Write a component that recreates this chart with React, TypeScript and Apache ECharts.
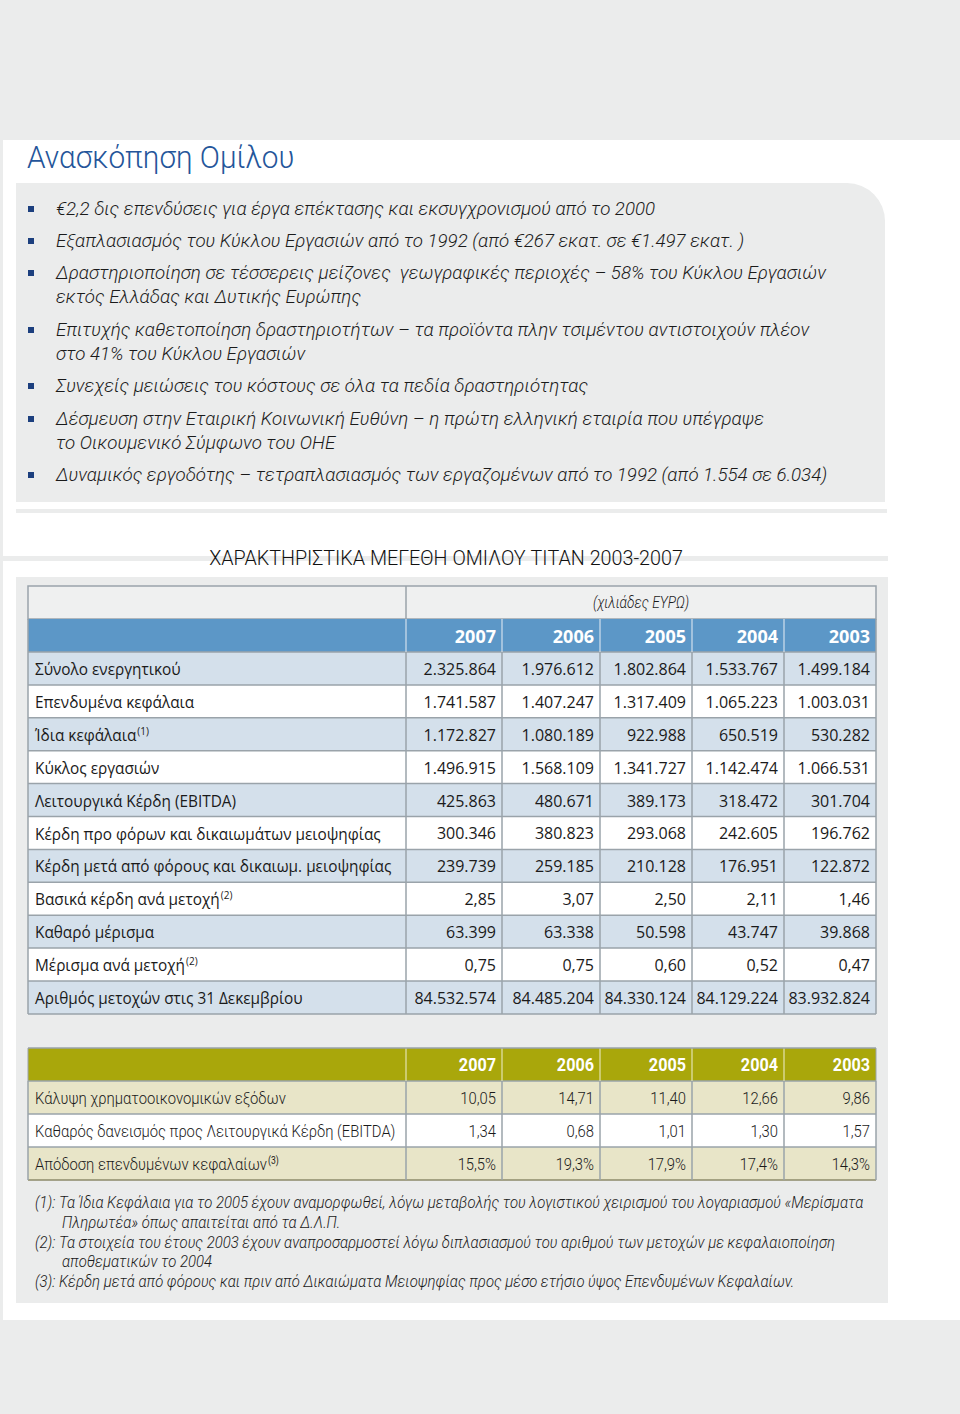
import React, { useEffect, useRef } from "react";
import * as echarts from "echarts";

// ---------- DATA ----------
const pageTitle = "Ανασκόπηση Ομίλου";
const bullets: string[][] = [
  ["€2,2 δις επενδύσεις για έργα επέκτασης και εκσυγχρονισμού από το 2000"],
  ["Εξαπλασιασμός του Κύκλου Εργασιών από το 1992 (από €267 εκατ. σε €1.497 εκατ. )"],
  ["Δραστηριοποίηση σε τέσσερεις μείζονες  γεωγραφικές περιοχές – 58% του Κύκλου Εργασιών", "εκτός Ελλάδας και Δυτικής Ευρώπης"],
  ["Επιτυχής καθετοποίηση δραστηριοτήτων – τα προϊόντα πλην τσιμέντου αντιστοιχούν πλέον", "στο 41% του Κύκλου Εργασιών"],
  ["Συνεχείς μειώσεις του κόστους σε όλα τα πεδία δραστηριότητας"],
  ["Δέσμευση στην Εταιρική Κοινωνική Ευθύνη – η πρώτη ελληνική εταιρία που υπέγραψε", "το Οικουμενικό Σύμφωνο του ΟΗΕ"],
  ["Δυναμικός εργοδότης – τετραπλασιασμός των εργαζομένων από το 1992 (από 1.554 σε 6.034)"],
];
const tableTitle = "ΧΑΡΑΚΤΗΡΙΣΤΙΚΑ ΜΕΓΕΘΗ ΟΜΙΛΟΥ ΤΙΤΑΝ 2003-2007";
const unitsLabel = "(χιλιάδες ΕΥΡΩ)";
const years = ["2007", "2006", "2005", "2004", "2003"];

const rowLabels1 = [
  "Σύνολο ενεργητικού",
  "Επενδυμένα κεφάλαια",
  "Ίδια κεφάλαια",
  "Κύκλος εργασιών",
  "Λειτουργικά Κέρδη (EBITDA)",
  "Κέρδη προ φόρων και δικαιωμάτων μειοψηφίας",
  "Κέρδη μετά από φόρους και δικαιωμ. μειοψηφίας",
  "Βασικά κέρδη ανά μετοχή",
  "Καθαρό μέρισμα",
  "Μέρισμα ανά μετοχή",
  "Αριθμός μετοχών στις 31 Δεκεμβρίου",
];
const rowNotes1 = ["", "", "(1)", "", "", "", "", "(2)", "", "(2)", ""];
const values2007 = ["2.325.864", "1.741.587", "1.172.827", "1.496.915", "425.863", "300.346", "239.739", "2,85", "63.399", "0,75", "84.532.574"];
const values2006 = ["1.976.612", "1.407.247", "1.080.189", "1.568.109", "480.671", "380.823", "259.185", "3,07", "63.338", "0,75", "84.485.204"];
const values2005 = ["1.802.864", "1.317.409", "922.988", "1.341.727", "389.173", "293.068", "210.128", "2,50", "50.598", "0,60", "84.330.124"];
const values2004 = ["1.533.767", "1.065.223", "650.519", "1.142.474", "318.472", "242.605", "176.951", "2,11", "43.747", "0,52", "84.129.224"];
const values2003 = ["1.499.184", "1.003.031", "530.282", "1.066.531", "301.704", "196.762", "122.872", "1,46", "39.868", "0,47", "83.932.824"];

const rowLabels2 = [
  "Κάλυψη χρηματοοικονομικών εξόδων",
  "Καθαρός δανεισμός προς Λειτουργικά Κέρδη (EBITDA)",
  "Απόδοση επενδυμένων κεφαλαίων",
];
const rowNotes2 = ["", "", "(3)"];
const ratios2007 = ["10,05", "1,34", "15,5%"];
const ratios2006 = ["14,71", "0,68", "19,3%"];
const ratios2005 = ["11,40", "1,01", "17,9%"];
const ratios2004 = ["12,66", "1,30", "17,4%"];
const ratios2003 = ["9,86", "1,57", "14,3%"];

const footnotes: string[][] = [
  ["(1): Τα Ίδια Κεφάλαια για το 2005 έχουν αναμορφωθεί, λόγω μεταβολής του λογιστικού χειρισμού του λογαριασμού «Μερίσματα", "Πληρωτέα» όπως απαιτείται από τα Δ.Λ.Π."],
  ["(2): Τα στοιχεία του έτους 2003 έχουν αναπροσαρμοστεί λόγω διπλασιασμού του αριθμού των μετοχών με κεφαλαιοποίηση", "αποθεματικών το 2004"],
  ["(3): Κέρδη μετά από φόρους και πριν από Δικαιώματα Μειοψηφίας προς μέσο ετήσιο ύψος Επενδυμένων Κεφαλαίων."],
];

// ---------- LAYOUT / STYLE ----------
const W = 960;
const H = 1414;
const GRAY = "#ebecec";
const SANS = "Roboto, 'Noto Sans', sans-serif";
const TABLE_FONT = "'Open Sans', 'Noto Sans', sans-serif";
const colEdges = [28, 406, 502, 600, 692, 784, 876];

let measureCtx: CanvasRenderingContext2D | null = null;
function measure(text: string, font: string): number {
  if (!measureCtx) measureCtx = document.createElement("canvas").getContext("2d");
  measureCtx!.font = font;
  return measureCtx!.measureText(text).width;
}

type TOpts = {
  size: number;
  family?: string;
  weight?: string | number;
  italic?: boolean;
  color?: string;
  align?: "left" | "right" | "center";
  sx?: number;
};

function txt(text: string, x: number, y: number, o: TOpts): any {
  return {
    type: "text",
    x,
    y,
    scaleX: o.sx ?? 1,
    silent: true,
    style: {
      text,
      fontSize: o.size,
      fontFamily: o.family ?? SANS,
      fontWeight: o.weight ?? "normal",
      fontStyle: o.italic ? "italic" : "normal",
      fill: o.color ?? "#1a1a1a",
      align: o.align ?? "left",
      verticalAlign: "middle",
    },
  };
}

function textWidth(text: string, o: TOpts): number {
  const font = `${o.italic ? "italic " : ""}${o.weight ?? "normal"} ${o.size}px ${o.family ?? SANS}`;
  return measure(text, font) * (o.sx ?? 1);
}

function buildGraphics(): any[] {
  const g: any[] = [];
  // page frame
  g.push({ type: "rect", shape: { x: 0, y: 0, width: W, height: H }, style: { fill: GRAY }, silent: true });
  g.push({ type: "rect", shape: { x: 3, y: 140, width: W - 3, height: 1180 }, style: { fill: "#ffffff" }, silent: true });

  // title
  g.push(txt(pageTitle, 27, 157, { size: 31, color: "#24559a", sx: 0.96, weight: 300 }));

  // bullets box
  g.push({ type: "rect", shape: { x: 16, y: 183, width: 869, height: 319, r: [0, 38, 0, 0] }, style: { fill: GRAY }, silent: true });
  g.push({ type: "rect", shape: { x: 16, y: 509, width: 871, height: 4 }, style: { fill: GRAY }, silent: true });

  const bulletStyle: TOpts = { size: 19, italic: true, sx: 0.985, weight: 300, color: "#1a1a1a" };
  const firstLineY = [209, 241, 273, 330, 386, 419, 475];
  bullets.forEach((lines, i) => {
    const y0 = firstLineY[i];
    g.push({ type: "rect", shape: { x: 28, y: y0 - 3, width: 6, height: 6 }, style: { fill: "#1c3f7e" }, silent: true });
    lines.forEach((line, j) => {
      g.push(txt(line, 56, y0 + j * 24, bulletStyle));
    });
  });

  // table section
  g.push({ type: "rect", shape: { x: 0, y: 556, width: 888, height: 5 }, style: { fill: GRAY }, silent: true });
  g.push(txt(tableTitle, 446, 558, { size: 21, align: "center", sx: 0.94, color: "#111", weight: 300 }));
  g.push({ type: "rect", shape: { x: 16, y: 577, width: 872, height: 726 }, style: { fill: GRAY }, silent: true });

  const cellFont: TOpts = { size: 16, family: TABLE_FONT, color: "#1a1a1a" };
  const labelFont: TOpts = { ...cellFont, sx: 0.96 };
  const border = "#9aa3aa";
  const tLeft = colEdges[0];
  const tRight = colEdges[colEdges.length - 1];

  // table 1 header row 1
  const t1Top = 586;
  const rowH = 33;
  g.push({ type: "rect", shape: { x: tLeft, y: t1Top, width: tRight - tLeft, height: rowH }, style: { fill: "#eff0f0", stroke: border, lineWidth: 1.5 }, silent: true });
  g.push({ type: "line", shape: { x1: colEdges[1], y1: t1Top, x2: colEdges[1], y2: t1Top + rowH }, style: { stroke: border, lineWidth: 1.5 }, silent: true });
  g.push(txt(unitsLabel, (colEdges[1] + tRight) / 2, t1Top + 17, { size: 16, italic: true, sx: 0.86, weight: 300, align: "center" }));

  // header row 2 (years)
  const t1H2 = t1Top + rowH;
  g.push({ type: "rect", shape: { x: tLeft, y: t1H2, width: tRight - tLeft, height: rowH }, style: { fill: "#5c97c7" }, silent: true });
  years.forEach((yr, k) => {
    g.push(txt(yr, colEdges[k + 2] - 6, t1H2 + 17, { size: 17, family: TABLE_FONT, weight: "bold", color: "#ffffff", align: "right", sx: 1.06 }));
  });

  const valueCols1 = [values2007, values2006, values2005, values2004, values2003];
  const dataTop1 = t1H2 + rowH;
  const rowH1 = 32.9;
  rowLabels1.forEach((label, r) => {
    const y = dataTop1 + r * rowH1;
    g.push({ type: "rect", shape: { x: tLeft, y, width: tRight - tLeft, height: rowH1 }, style: { fill: r % 2 === 0 ? "#d4e0eb" : "#ffffff" }, silent: true });
    const cy = y + rowH1 / 2 + 0.5;
    g.push(txt(label, 35, cy, labelFont));
    if (rowNotes1[r]) {
      const w = textWidth(label, labelFont);
      g.push(txt(rowNotes1[r], 35 + w + 1, cy - 4, { size: 10, family: TABLE_FONT }));
    }
    valueCols1.forEach((col, k) => {
      g.push(txt(col[r], colEdges[k + 2] - 6, cy, { ...cellFont, align: "right" }));
    });
  });
  const t1Bottom = dataTop1 + rowLabels1.length * rowH1;
  // grid lines table 1
  for (let r = 0; r <= rowLabels1.length; r++) {
    const y = dataTop1 + r * rowH1;
    g.push({ type: "line", shape: { x1: tLeft, y1: y, x2: tRight, y2: y }, style: { stroke: border, lineWidth: 1.5 }, silent: true });
  }
  colEdges.forEach((x, k) => {
    g.push({ type: "line", shape: { x1: x, y1: dataTop1, x2: x, y2: t1Bottom }, style: { stroke: border, lineWidth: 1.5 }, silent: true });
    if (k > 0 && k < colEdges.length - 1) {
      g.push({ type: "line", shape: { x1: x, y1: t1H2, x2: x, y2: dataTop1 }, style: { stroke: "#e8eef5", lineWidth: 1 }, silent: true });
    }
  });
  g.push({ type: "line", shape: { x1: tLeft, y1: t1H2, x2: tLeft, y2: dataTop1 }, style: { stroke: border, lineWidth: 1.5 }, silent: true });
  g.push({ type: "line", shape: { x1: tRight, y1: t1H2, x2: tRight, y2: dataTop1 }, style: { stroke: border, lineWidth: 1.5 }, silent: true });

  // table 2
  const t2Top = 1048;
  const rowH2 = 33;
  const narrow: TOpts = { size: 17, color: "#1a1a1a", sx: 0.87, weight: 300 };
  g.push({ type: "rect", shape: { x: tLeft, y: t2Top, width: tRight - tLeft, height: rowH2 }, style: { fill: "#a9a70b" }, silent: true });
  years.forEach((yr, k) => {
    g.push(txt(yr, colEdges[k + 2] - 6, t2Top + 17, { size: 18, weight: "bold", color: "#ffffff", align: "right", sx: 0.9 }));
  });
  const valueCols2 = [ratios2007, ratios2006, ratios2005, ratios2004, ratios2003];
  const dataTop2 = t2Top + rowH2;
  rowLabels2.forEach((label, r) => {
    const y = dataTop2 + r * rowH2;
    g.push({ type: "rect", shape: { x: tLeft, y, width: tRight - tLeft, height: rowH2 }, style: { fill: r % 2 === 0 ? "#e8e5c8" : "#ffffff" }, silent: true });
    const cy = y + rowH2 / 2 + 0.5;
    g.push(txt(label, 35, cy, narrow));
    if (rowNotes2[r]) {
      const w = textWidth(label, narrow);
      g.push(txt(rowNotes2[r], 35 + w + 1, cy - 4, { size: 10, sx: 0.86 }));
    }
    valueCols2.forEach((col, k) => {
      g.push(txt(col[r], colEdges[k + 2] - 6, cy, { ...narrow, align: "right" }));
    });
  });
  const t2Bottom = dataTop2 + rowLabels2.length * rowH2;
  for (let r = 0; r <= rowLabels2.length; r++) {
    const y = dataTop2 + r * rowH2;
    g.push({ type: "line", shape: { x1: tLeft, y1: y, x2: tRight, y2: y }, style: { stroke: r === rowLabels2.length ? "#8c8a6a" : border, lineWidth: 1.5 }, silent: true });
  }
  colEdges.forEach((x, k) => {
    g.push({ type: "line", shape: { x1: x, y1: dataTop2, x2: x, y2: t2Bottom }, style: { stroke: border, lineWidth: 1.5 }, silent: true });
    g.push({ type: "line", shape: { x1: x, y1: t2Top, x2: x, y2: dataTop2 }, style: { stroke: k === 0 || k === colEdges.length - 1 ? border : "#f0efd0", lineWidth: 1 }, silent: true });
  });
  g.push({ type: "line", shape: { x1: tLeft, y1: t2Top, x2: tRight, y2: t2Top }, style: { stroke: border, lineWidth: 1.5 }, silent: true });

  // footnotes
  const fnStyle: TOpts = { size: 16, italic: true, sx: 0.93, weight: 300 };
  let fy = 1203;
  footnotes.forEach((lines) => {
    lines.forEach((line, j) => {
      g.push(txt(line, j === 0 ? 35 : 62, fy, fnStyle));
      fy += j === lines.length - 1 ? 20 : 19.5;
    });
  });
  return g;
}

export default function App() {
  const ref = useRef<HTMLDivElement>(null);
  useEffect(() => {
    if (!ref.current) return;
    const chart = echarts.init(ref.current, undefined, { renderer: "svg" });
    chart.setOption({
      animation: false,
      backgroundColor: GRAY,
      graphic: buildGraphics(),
    });
    return () => chart.dispose();
  }, []);
  return <div ref={ref} style={{ position: "absolute", left: 0, top: 0, width: W, height: H }} />;
}
